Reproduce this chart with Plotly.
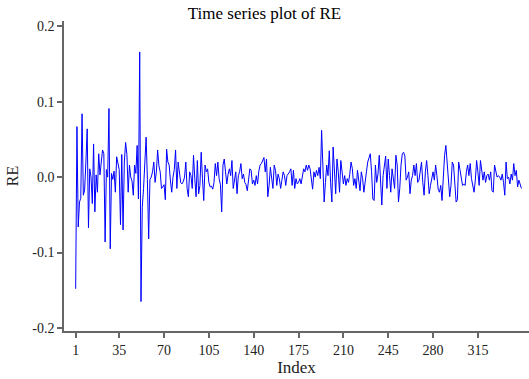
import plotly.graph_objects as go

re_values = [
    -0.148, 0.067, -0.066, -0.033, -0.028, 0.084, -0.024, -0.017, 0.020, 0.064,
    -0.067, 0.011, 0.000, -0.035, 0.044, -0.046, 0.003, -0.020, 0.031, 0.003,
    0.020, 0.036, 0.031, -0.086, 0.010, 0.000, 0.091, -0.095, 0.005, -0.003,
    0.008, -0.020, 0.027, 0.020, 0.010, -0.063, 0.030, -0.070, 0.020, 0.046,
    0.030, -0.020, 0.016, 0.000, -0.005, -0.024, 0.016, 0.005, 0.042, -0.029,
    0.166, -0.165, -0.040, -0.015, 0.020, 0.053, -0.003, -0.082, -0.003, 0.000,
    0.007, 0.020, -0.007, 0.007, 0.036, 0.015, 0.007, -0.015, -0.013, -0.010,
    -0.030, 0.037, 0.020, 0.016, -0.005, -0.020, 0.000, 0.010, 0.036, -0.015,
    0.020, 0.003, -0.007, -0.009, -0.006, 0.000, 0.020, -0.015, -0.026, 0.007,
    0.002, -0.015, 0.029, -0.002, -0.026, 0.022, -0.022, -0.011, 0.033, -0.002,
    -0.031, 0.016, 0.007, 0.011, -0.007, -0.013, -0.012, -0.016, -0.007, 0.018,
    0.002, 0.020, -0.002, -0.010, -0.046, 0.016, 0.024, 0.007, -0.009, 0.004,
    0.011, 0.002, 0.022, -0.015, 0.000, 0.007, -0.022, 0.002, 0.007, 0.018,
    -0.002, 0.004, -0.007, -0.010, -0.018, -0.002, 0.011, 0.009, -0.009, -0.004,
    -0.011, 0.002, -0.009, 0.008, 0.016, 0.018, 0.022, 0.026, 0.007, 0.024,
    -0.026, -0.011, 0.013, -0.002, -0.015, 0.016, 0.009, -0.011, 0.004, -0.002,
    -0.015, -0.004, 0.007, 0.002, -0.011, 0.002, 0.004, 0.007, 0.011, -0.011,
    0.009, -0.015, -0.002, -0.009, -0.007, -0.002, -0.009, 0.000, 0.011, 0.007,
    0.016, 0.009, 0.016, 0.011, -0.002, -0.016, 0.007, 0.000, 0.009, 0.002,
    0.013, -0.002, 0.062, 0.002, -0.033, -0.007, 0.016, 0.002, 0.035, -0.007,
    -0.033, 0.040, 0.011, -0.022, 0.024, 0.007, -0.020, 0.022, 0.007, -0.009,
    0.002, -0.011, -0.002, -0.007, 0.004, 0.020, 0.011, -0.011, -0.002, -0.015,
    0.009, -0.002, -0.018, 0.007, -0.002, -0.020, -0.002, 0.007, 0.020, 0.025,
    0.031, 0.007, -0.029, -0.031, 0.016, -0.007, 0.004, 0.029, -0.007, -0.037,
    0.002, 0.016, 0.028, -0.015, 0.024, 0.002, -0.020, 0.011, -0.004, -0.015,
    0.029, 0.016, -0.033, -0.015, 0.016, 0.031, 0.033, 0.028, -0.004, 0.000,
    0.007, -0.022, -0.004, 0.002, 0.016, 0.002, 0.018, -0.007, -0.004, 0.010,
    0.020, -0.007, -0.024, 0.007, 0.022, 0.002, -0.022, -0.011, -0.002, 0.007,
    -0.004, 0.016, 0.002, -0.016, -0.020, -0.011, -0.031, 0.011, 0.029, 0.042,
    0.020, -0.002, -0.026, -0.011, 0.020, 0.016, -0.011, -0.033, -0.030, 0.020,
    0.010, -0.002, -0.011, -0.009, -0.011, 0.007, 0.016, 0.002, 0.018, -0.002,
    -0.011, -0.020, -0.004, 0.022, 0.007, -0.011, 0.022, 0.007, -0.004, 0.007,
    -0.007, 0.002, 0.004, -0.004, 0.007, -0.018, -0.020, 0.016, 0.009, 0.000,
    0.002, 0.000, -0.004, 0.004, -0.007, -0.024, 0.020, -0.002, 0.000, -0.009,
    0.004, -0.004, 0.018, 0.002, 0.009, -0.013, -0.004, -0.009, -0.015,
]
index = list(range(1, len(re_values) + 1))

x_ticks = [1, 35, 70, 105, 140, 175, 210, 245, 280, 315]
y_ticks = [-0.2, -0.1, 0.0, 0.1, 0.2]
y_tick_text = ["-0.2", "-0.1", "0.0", "0.1", "0.2"]

serif = "Liberation Serif, Times New Roman, serif"

fig = go.Figure()
fig.add_trace(go.Scatter(
    x=index, y=re_values, mode="lines",
    line=dict(color="#0000FF", width=1),
    showlegend=False, hoverinfo="skip",
))

axis_common = dict(
    showline=True, linecolor="#666666", linewidth=1.5,
    ticks="outside", ticklen=5, tickcolor="#666666", tickwidth=1.5,
    showgrid=False, zeroline=False, automargin=False,
    tickfont=dict(family=serif, size=14, color="#222222"),
)

fig.update_layout(
    width=529, height=379,
    paper_bgcolor="white", plot_bgcolor="white",
    margin=dict(l=64, r=0, t=21, b=48),
    font=dict(family=serif, color="#222222"),
    title=dict(
        text="Time series plot of RE",
        x=0.5, xref="container", xanchor="center",
        y=1 - 13 / 379, yref="container", yanchor="middle",
        font=dict(family=serif, size=17, color="#000000"),
    ),
    xaxis=dict(
        range=[-8.1, 354.9],
        tickmode="array", tickvals=x_ticks, ticktext=[str(t) for t in x_ticks],
        title=dict(text="Index", standoff=2, font=dict(family=serif, size=17, color="#222222")),
        **axis_common,
    ),
    yaxis=dict(
        range=[-0.204, 0.207],
        tickmode="array", tickvals=y_ticks, ticktext=y_tick_text,
        title=dict(text="RE", standoff=10, font=dict(family=serif, size=16, color="#222222")),
        **axis_common,
    ),
)

fig.write_html(
    "out.html",
    config={"displayModeBar": False},
    post_script="document.body.style.margin='0';document.body.style.overflow='hidden';",
)
